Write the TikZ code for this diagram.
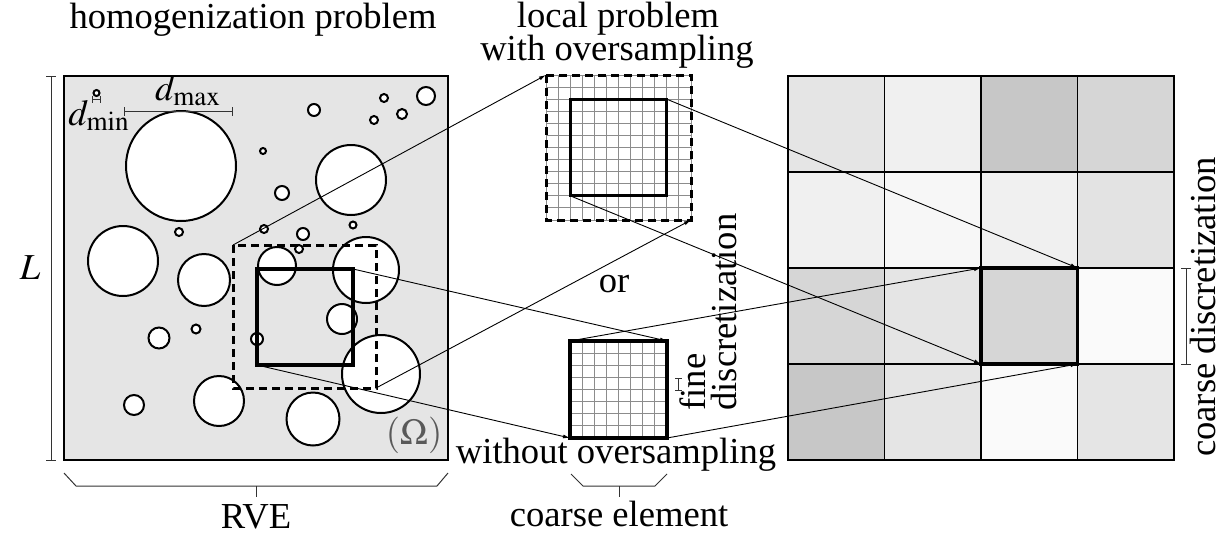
\documentclass[tikz,border=0pt]{standalone}
\usepackage{mathptmx}
\usepackage{fontspec}
\setmainfont{Liberation Serif}
\usetikzlibrary{arrows.meta}

\begin{document}
\begin{tikzpicture}[>={Latex[length=3.5pt,width=2pt]}, x=0.5pt, y=-0.5pt,
  font=\fontsize{18.3}{20}\selectfont,
  inclusion/.style={draw, fill=white, line width=1pt},
  elembox/.style={draw, line width=1.6pt},
  ovbox/.style={draw, line width=1.5pt, dash pattern=on 4pt off 2.5pt},
  finegrid/.style={draw=black!45, line width=0.5pt},
  dimline/.style={draw=black!80, line width=0.5pt},
  link/.style={->, line width=0.45pt}]
  \useasboundingbox (0,0) rectangle (1230,536);

  % RVE with inclusions
  \draw[fill=black!10, line width=1pt] (64,76) rectangle (448,460);
  \foreach \cx/\cy/\rad in {96.5/93/3, 181/166/55, 426/96/9, 384/98/4, 402/114/5,
      374/120/4, 314/110/6, 263/151/3, 351/180/35, 282/193/7, 264/229/4,
      303/234/6, 353/225/3.5, 299/249/4, 277/266/19, 366/270/33, 342/319/15,
      257/339/6, 381/374/39, 123/261/35, 204/280/26, 179/232/4, 196/329/4.5,
      159/338/10.5, 134/405/10, 219/401/25, 313/419/26.5}
    \draw[inclusion] (\cx,\cy) circle (\rad);
  \draw[ovbox] (233,245) rectangle (376,388);
  \draw[elembox] (257,269) rectangle (353,365);
  \coordinate (ovTL) at (233,245);
  \coordinate (ovBR) at (376,388);
  \coordinate (elTR) at (353,269);
  \coordinate (elBL) at (257,365);

  % dimensions of the RVE
  \draw[dimline] (51,76) -- (51,460);
  \draw[dimline] (46,76) -- (56,76);
  \draw[dimline] (46,460) -- (56,460);
  \node (L) at (30,268) {$L$};
  \draw[dimline] (124,111.5) -- (232,111.5);
  \draw[dimline] (124,107) -- (124,116);
  \draw[dimline] (232,107) -- (232,116);
  \node[anchor=base] (dmax) at (188,100) {$d_{\max}$};
  \draw[dimline] (92.5,99.5) -- (100.5,99.5);
  \draw[dimline] (92.5,96) -- (92.5,103);
  \draw[dimline] (100.5,96) -- (100.5,103);
  \node[anchor=base] (dmin) at (99,125) {$d_{\min}$};
  \node[anchor=base, text=black!65] (omega) at (414,444) {$(\Omega)$};
  \draw[dimline] (64,473) -- (76,486) -- (437,486) -- (448,473);
  \draw[dimline] (256,486) -- (256,497);
  \node[anchor=base] (rve) at (256,528) {RVE};
  \node[anchor=base] (hom) at (253,28) {homogenization problem};

  % local problem with oversampling
  \fill[white] (546,75) rectangle (691,220);
  \foreach \i in {0,...,12} {
    \draw[finegrid] ({546+145/12*\i},75) -- ++(0,145);
    \draw[finegrid] (546,{75+145/12*\i}) -- ++(145,0);
  }
  \draw[ovbox] (546,75) rectangle (691,220);
  \draw[elembox] (570.2,99.2) rectangle (666.8,195.8);
  \coordinate (mtTL) at (546,75);
  \coordinate (mtBR) at (691,220);
  \coordinate (mtiTR) at (666.8,99.2);
  \coordinate (mtiBL) at (570.2,195.8);
  \node[anchor=base] (loc) at (618,27) {local problem};
  \node[anchor=base] (with) at (617,60) {with oversampling};
  \node (or) at (614,284) {or};

  % local problem without oversampling
  \fill[white] (570,341) rectangle (667,438);
  \foreach \i in {0,...,8} {
    \draw[finegrid] ({570+97/8*\i},341) -- ++(0,97);
    \draw[finegrid] (570,{341+97/8*\i}) -- ++(97,0);
  }
  \draw[elembox] (570,341) rectangle (667,438);
  \coordinate (mbTL) at (570,341);
  \coordinate (mbTR) at (667,341);
  \coordinate (mbBL) at (570,438);
  \coordinate (mbBR) at (667,438);
  \node[anchor=base] (without) at (616,463) {without oversampling};
  \draw[dimline] (678.5,378) -- (678.5,390);
  \draw[dimline] (675,378) -- (682,378);
  \draw[dimline] (675,390) -- (682,390);
  \node[rotate=90, anchor=west, align=left, inner sep=0pt,
    font=\fontsize{18.3}{15.5}\selectfont] (fine) at (708,411) {fine\\discretization};
  \draw[dimline] (571,474) -- (583,486) -- (655,486) -- (667,474);
  \draw[dimline] (619,486) -- (619,497);
  \node[anchor=base] (coarseel) at (619,526) {coarse element};

  % coarse mesh
  \foreach \row/\shades in {0/{10,6,22,16}, 1/{6,3,6,11}, 2/{16,10,16,2}, 3/{22,10,2,10}}
    \foreach \s [count=\col from 0] in \shades
      \fill[black!\s] ({788+96.5*\col},{76+96*\row}) rectangle +(96.5,96);
  \foreach \i in {1,2,3} {
    \draw[line width=0.6pt] ({788+96.5*\i},76) -- ++(0,384);
    \draw[line width=0.6pt] (788,{76+96*\i}) -- ++(386,0);
  }
  \draw[line width=1.3pt] (788,76) rectangle (1174,460);
  \draw[line width=1.8pt] (981,268) rectangle (1077.5,364);
  \coordinate (cTL) at (981,268);
  \coordinate (cTR) at (1077.5,268);
  \coordinate (cBL) at (981,364);
  \coordinate (cBR) at (1077.5,364);
  \draw[dimline] (1186,268) -- (1186,364);
  \draw[dimline] (1181,268) -- (1191,268);
  \draw[dimline] (1181,364) -- (1191,364);
  \node[rotate=90] (coarsedisc) at (1203,307) {coarse discretization};

  % connections
  \draw[link] (ovTL) -- (mtTL);
  \draw[link] (ovBR) -- (mtBR);
  \draw[link] (elTR) -- (mbTR);
  \draw[link] (elBL) -- (mbBL);
  \draw[link] (mtiTR) -- (cTR);
  \draw[link] (mtiBL) -- (cBL);
  \draw[link] (mbTL) -- (cTL);
  \draw[link] (mbBR) -- (cBR);
\end{tikzpicture}
\end{document}
